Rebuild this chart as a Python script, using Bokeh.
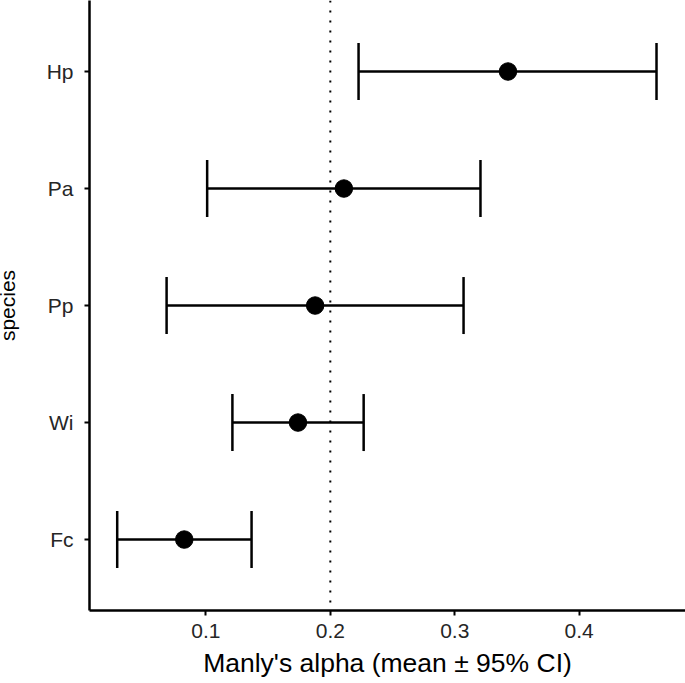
from bokeh.plotting import figure
from bokeh.models import Whisker, TeeHead, Span, FixedTicker, ColumnDataSource
from bokeh.embed import file_html
from bokeh.resources import INLINE

species = ["Fc", "Wi", "Pp", "Pa", "Hp"]
mean_alpha = [0.0826, 0.174, 0.1878, 0.2109, 0.3428]
lower_ci = [0.0287, 0.1213, 0.0684, 0.101, 0.2227]
upper_ci = [0.1367, 0.2268, 0.3071, 0.3207, 0.4622]
x_ticks = [0.1, 0.2, 0.3, 0.4]
reference_alpha = 0.2
x_title = "Manly's alpha (mean \u00b1 95% CI)"
y_title = "species"

ypos = list(range(1, len(species) + 1))
src = ColumnDataSource(dict(y=ypos, mean=mean_alpha, lower=lower_ci, upper=upper_ci))

p = figure(width=694, height=683, output_backend="svg", toolbar_location=None,
           x_range=(0.00643, 0.4855), y_range=(0.3937, 5.607),
           min_border_left=98, min_border_right=0, min_border_top=0, min_border_bottom=73,
           margin=(0, 0, 0, -9))
p.outline_line_color = None
p.xgrid.visible = False
p.ygrid.visible = False
p.background_fill_color = "white"
p.border_fill_color = "white"

p.add_layout(Span(location=reference_alpha, dimension="height", line_color="black",
                  line_width=2, line_dash="2 8"))

w = Whisker(source=src, base="y", lower="lower", upper="upper", dimension="width",
            line_color="black", line_width=2.5,
            lower_head=TeeHead(size=57, line_color="black", line_width=2.5),
            upper_head=TeeHead(size=57, line_color="black", line_width=2.5))
p.add_layout(w)
p.scatter(x="mean", y="y", source=src, size=17.5, color="black")

FONT = "Liberation Sans"
p.xaxis.ticker = FixedTicker(ticks=x_ticks)
p.yaxis.ticker = FixedTicker(ticks=ypos)
p.yaxis.major_label_overrides = {i: s for i, s in zip(ypos, species)}
p.xaxis.axis_label = x_title
p.yaxis.axis_label = y_title
for ax in (p.xaxis[0], p.yaxis[0]):
    ax.axis_line_width = 2.5
    ax.axis_line_color = "black"
    ax.major_tick_line_width = 2
    ax.major_tick_line_color = "black"
    ax.major_tick_out = 5
    ax.major_tick_in = 0
    ax.minor_tick_line_color = None
    ax.major_label_text_font = FONT
    ax.major_label_text_font_size = "21px"
    ax.major_label_text_color = "#262626"
    ax.axis_label_text_font = FONT
    ax.axis_label_text_font_style = "normal"
    ax.axis_label_text_color = "black"
p.xaxis.axis_label_text_font_size = "26.5px"
p.yaxis.axis_label_text_font_size = "21px"
p.yaxis.major_label_standoff = 11
p.yaxis.axis_label_standoff = 25
p.xaxis.major_label_standoff = 8
p.xaxis.axis_label_standoff = 7

open("out.html", "w").write(file_html(p, INLINE))
